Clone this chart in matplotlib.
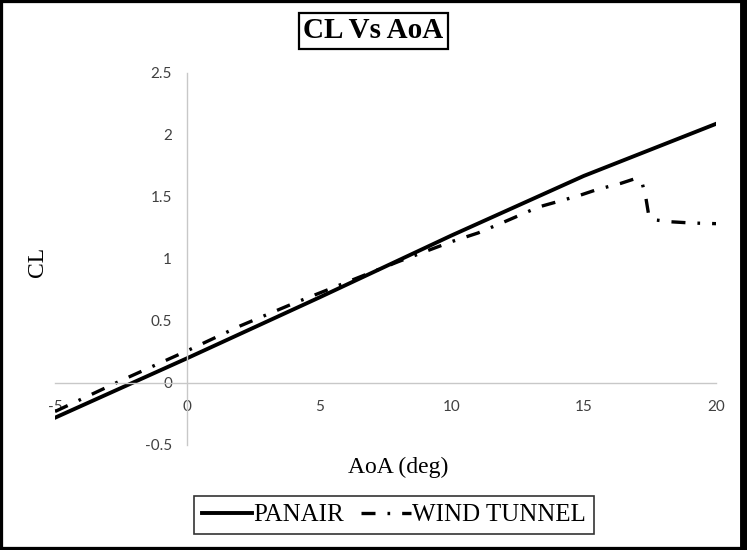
import matplotlib
matplotlib.use("Agg")
import matplotlib.pyplot as plt
from matplotlib.patches import Rectangle
from matplotlib.lines import Line2D

# PANAIR prediction
aoa_panair = [-5, 0, 5, 10, 15, 20]
cl_panair = [-0.28, 0.20, 0.69, 1.19, 1.67, 2.09]

# wind tunnel measurements
aoa_wt = [-5, -2.5, 0, 2, 4, 6, 8, 10, 11, 12, 13.3, 14.8, 15.5, 16.4, 16.9, 17.2, 17.35, 17.45, 17.7, 18.3, 19.1, 20]
cl_wt = [-0.23, 0.02, 0.26, 0.46, 0.64, 0.81, 0.98, 1.14, 1.21, 1.30, 1.42, 1.51, 1.56, 1.61, 1.645, 1.62, 1.49, 1.36, 1.315, 1.30, 1.29, 1.285]

xticks = [-5, 0, 5, 10, 15, 20]
yticks = [-0.5, 0, 0.5, 1, 1.5, 2, 2.5]

serif = 'Liberation Serif'
grey = '#C8C8C8'


def main():
    fig = plt.figure(figsize=(7.47, 5.5), dpi=100)
    ax = fig.add_axes([55 / 747, 1 - 445 / 550, (716 - 55) / 747, (445 - 73) / 550])

    ax.plot(aoa_panair, cl_panair, color='black', lw=2.8, label='PANAIR')
    ax.plot(aoa_wt, cl_wt, color='black', lw=2.4,
            linestyle=(0, (4.2, 3.6, 0.8, 3.6)), label='WIND TUNNEL')

    ax.set_xlim(-5, 20)
    ax.set_ylim(-0.5, 2.5)
    ax.set_xticks(xticks)
    ax.set_xticklabels([f'{t:g}' for t in xticks])
    ax.set_yticks(yticks)
    ax.set_yticklabels([f'{t:g}' for t in yticks])

    # axes cross at zero, Excel style
    ax.spines['left'].set_position(('data', 0))
    ax.spines['bottom'].set_position(('data', 0))
    ax.spines['right'].set_visible(False)
    ax.spines['top'].set_visible(False)
    for s in ['left', 'bottom']:
        ax.spines[s].set_color(grey)
        ax.spines[s].set_linewidth(1.0)

    ax.tick_params(axis='x', length=0, pad=12, labelsize=11, labelcolor='#404040')
    ax.tick_params(axis='y', length=0, pad=11, labelsize=11, labelcolor='#404040')
    for lab in ax.get_xticklabels() + ax.get_yticklabels():
        lab.set_family('Lato')

    fig.text(373 / 747, 1 - 31 / 550, 'CL Vs AoA', family=serif, fontsize=21,
             fontweight='bold', ha='center', va='center',
             bbox=dict(boxstyle='square,pad=0.15', fc='white', ec='black', lw=1.6))
    fig.text(398 / 747, 1 - 467 / 550, 'AoA (deg)', family=serif, fontsize=17,
             ha='center', va='center')
    fig.text(38 / 747, 1 - 262 / 550, 'CL', family=serif, fontsize=17,
             rotation=90, ha='center', va='center')

    leg = fig.legend(loc='center', bbox_to_anchor=(394 / 747, 1 - 515 / 550), ncol=2,
                     prop={'family': serif, 'size': 18}, frameon=True, fancybox=False,
                     handlelength=2.0, handletextpad=0.05, columnspacing=0.7,
                     borderpad=0.3, edgecolor='black')
    leg.get_frame().set_linewidth(1.2)

    # outer frame
    fig.patches.append(Rectangle((0, 0), 1, 1, transform=fig.transFigure, fill=False,
                                 ec='black', lw=4.5))
    fig.lines.append(Line2D([1, 1], [0, 1], transform=fig.transFigure, color='black', lw=10))

    fig.savefig('out.png', dpi=100)


if __name__ == "__main__":
    main()
